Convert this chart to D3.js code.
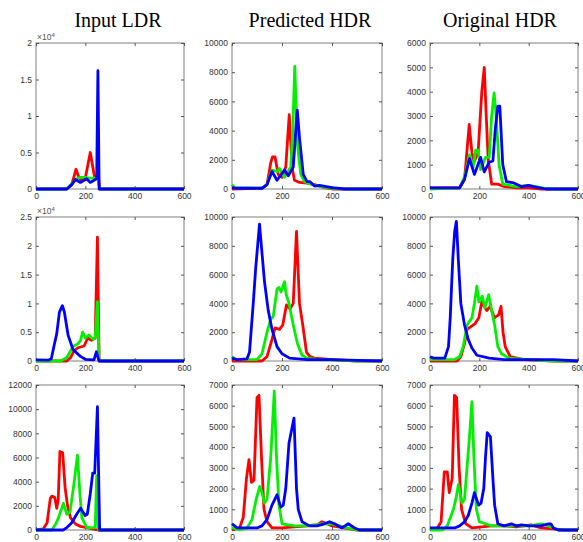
<!DOCTYPE html>
<html>
<head>
<meta charset="utf-8">
<script src="https://cdn.jsdelivr.net/npm/d3@7"></script>
<style>
body { margin: 0; background: #fff; }
.tick text { font-family: "Liberation Sans", Arial, sans-serif; font-size: 8.5px; fill: #333; }
.tick line { stroke: #555; }
</style>
</head>
<body>
<div id="chart"></div>
<script>
// column titles and axis setup
var colTitles = ["Input LDR", "Predicted HDR", "Original HDR"];
var xTicks = [0, 200, 400, 600];
var yMax = [20000, 10000, 6000, 25000, 10000, 10000, 12000, 7000, 7000];
var yStep = [5000, 2000, 1000, 5000, 2000, 2000, 2000, 1000, 1000];
var yExp = [4, 0, 0, 4, 0, 0, 0, 0, 0]; // x10^4 factor on the LDR panels

// row 1
var in1R = [[0,0],[125,0],[145,600],[162,2700],[175,1500],[184,1200],[200,1500],[220,5000],[238,1500],[245,1800],[252,2200],[258,0],[600,0]];
var in1G = [[0,0],[125,0],[150,900],[165,1400],[180,1600],[200,1600],[215,1500],[235,1500],[245,1500],[250,1500],[258,0],[600,0]];
var in1B = [[0,0],[125,0],[145,600],[160,1300],[180,900],[205,1400],[220,900],[240,1300],[246,1400],[251,16200],[256,0],[600,0]];

var pr1R = [[0,0],[120,50],[140,300],[155,1800],[162,2200],[172,2200],[185,1000],[200,800],[215,1500],[229,5100],[240,1500],[250,600],[270,450],[300,400],[330,300],[370,100],[400,0],[600,0]];
var pr1G = [[0,300],[10,100],[120,50],[140,300],[160,1300],[180,1200],[190,1400],[210,800],[235,1500],[243,4000],[251,8400],[262,3000],[275,1000],[290,500],[320,300],[360,150],[400,50],[450,0],[600,0]];
var pr1B = [[0,100],[20,50],[120,50],[140,300],[160,1200],[180,600],[210,1300],[225,900],[245,1500],[255,4000],[261,5400],[270,3500],[285,1000],[300,500],[312,500],[330,200],[350,250],[400,100],[450,0],[600,0]];

var or1R = [[0,50],[120,50],[140,400],[159,2650],[170,1500],[178,1100],[195,1500],[210,4000],[220,5000],[228,3000],[236,1200],[250,200],[275,200],[300,100],[350,50],[400,50],[450,0],[600,0]];
var or1G = [[0,0],[120,50],[140,500],[160,1400],[175,900],[185,1600],[195,1600],[205,800],[225,1300],[240,1300],[250,3000],[260,3950],[268,3000],[280,1000],[295,200],[350,100],[400,150],[430,100],[480,0],[600,0]];
var or1B = [[0,50],[120,50],[140,400],[160,1250],[180,600],[205,1300],[220,700],[240,1100],[255,1150],[265,2500],[275,3400],[283,3400],[295,1000],[310,300],[340,250],[370,100],[400,150],[420,100],[470,0],[600,0]];

// row 2
var in2R = [[0,0],[125,0],[140,600],[155,1800],[170,2300],[195,2600],[210,4000],[225,3600],[240,4000],[249,21500],[256,0],[600,0]];
var in2G = [[0,0],[100,0],[125,600],[150,2500],[170,3000],[180,3500],[189,5000],[200,4000],[215,4500],[230,3800],[240,4000],[249,10300],[256,0],[600,0]];
var in2B = [[0,200],[50,150],[62,400],[75,3000],[84,4700],[95,8500],[107,9600],[115,8500],[130,4500],[150,2000],[180,800],[200,300],[235,200],[245,1600],[252,500],[256,0],[600,0]];

var pr2R = [[0,0],[120,0],[140,300],[160,1500],[172,2300],[190,2200],[203,2500],[218,3900],[232,3600],[245,4000],[258,9000],[270,4000],[283,2500],[298,600],[312,300],[330,200],[400,100],[500,0],[600,0]];
var pr2G = [[0,300],[15,100],[100,100],[120,500],[140,2000],[155,2900],[165,3100],[180,5000],[188,5100],[196,4800],[210,5500],[217,4600],[228,4000],[245,2500],[262,1200],[280,400],[300,200],[350,100],[450,50],[500,0],[600,0]];
var pr2B = [[0,200],[20,100],[60,150],[70,600],[85,4000],[95,6500],[110,9500],[120,7500],[130,5500],[145,3500],[160,2200],[180,1000],[200,500],[230,200],[300,100],[400,100],[500,50],[600,0]];

var or2R = [[0,0],[110,0],[125,300],[140,1200],[150,2200],[183,2600],[198,3000],[210,4100],[230,3500],[244,3800],[261,3000],[278,3200],[288,3800],[296,2000],[305,1000],[325,300],[380,100],[500,0],[600,0]];
var or2G = [[0,100],[100,100],[120,300],[135,1000],[150,2500],[170,3000],[180,4000],[190,5200],[198,4100],[212,4500],[222,3700],[238,4600],[250,3500],[262,2500],[275,1000],[290,500],[320,200],[400,100],[500,0],[600,0]];
var or2B = [[0,300],[15,200],[60,200],[75,1000],[82,3000],[92,7000],[100,9000],[107,9700],[115,7000],[125,4000],[140,2500],[155,1500],[170,900],[190,400],[240,200],[300,100],[400,100],[500,100],[600,0]];

// row 3
var in3R = [[0,0],[30,100],[45,600],[58,2600],[64,2800],[76,2700],[84,1800],[90,2500],[97,6500],[108,6400],[118,3500],[128,2000],[140,1000],[160,500],[180,300],[206,200],[250,0],[600,0]];
var in3G = [[0,0],[64,0],[80,500],[91,1000],[111,2200],[125,1300],[138,1500],[155,4000],[168,6200],[178,3000],[186,1000],[206,200],[240,200],[246,4500],[253,0],[600,0]];
var in3B = [[0,0],[110,0],[125,200],[145,600],[165,1300],[181,1800],[199,1200],[208,1300],[220,3000],[230,4700],[238,4700],[249,10200],[258,0],[600,0]];

var pr3R = [[0,0],[30,100],[45,600],[58,2500],[68,3400],[78,2300],[88,2400],[100,6400],[108,6500],[118,3500],[128,1000],[140,400],[160,100],[200,100],[250,150],[300,200],[340,250],[360,400],[380,300],[400,200],[450,100],[500,0],[600,0]];
var pr3G = [[0,100],[30,0],[60,100],[80,500],[97,1500],[111,2100],[120,1800],[130,1300],[140,1500],[155,3500],[169,6700],[178,3500],[188,1200],[200,300],[250,200],[300,200],[360,300],[400,300],[430,200],[460,100],[500,0],[600,0]];
var pr3B = [[0,300],[20,100],[100,100],[120,200],[140,500],[160,1200],[180,1700],[195,1100],[205,1200],[215,2000],[228,4200],[248,5400],[258,2000],[265,1000],[280,400],[310,200],[340,200],[370,300],[390,400],[410,300],[440,100],[465,300],[490,100],[510,0],[600,0]];

var or3R = [[0,0],[30,100],[45,400],[58,2800],[70,2800],[78,1800],[90,2500],[99,6500],[108,6400],[118,3000],[128,1000],[145,300],[170,100],[250,200],[300,200],[350,150],[380,200],[410,250],[450,100],[500,50],[550,0],[600,0]];
var or3G = [[0,0],[50,0],[70,200],[95,1000],[105,1500],[115,2200],[122,1800],[130,1300],[140,1500],[160,4500],[170,6200],[178,3500],[188,1000],[200,400],[250,200],[350,200],[400,200],[450,300],[480,200],[520,0],[600,0]];
var or3B = [[0,100],[100,100],[120,200],[140,400],[155,700],[170,1300],[180,1800],[197,1200],[207,1300],[218,2000],[225,3500],[232,4700],[245,4500],[255,2500],[262,1200],[275,300],[300,200],[330,300],[350,200],[370,250],[400,200],[450,200],[480,300],[490,300],[500,100],[520,0],[600,0]];

var panels = [
  [in1R, in1G, in1B], [pr1R, pr1G, pr1B], [or1R, or1G, or1B],
  [in2R, in2G, in2B], [pr2R, pr2G, pr2B], [or2R, or2G, or2B],
  [in3R, in3G, in3B], [pr3R, pr3G, pr3B], [or3R, or3G, or3B]
];
var lineColors = ["#ff0000", "#00f000", "#0000ff"];

var width = 583, height = 542;
var colX = [[36, 184], [232, 382], [430, 578]];
var rowY = [[43, 189], [217, 361], [385, 530]];

var svg = d3.select("#chart").append("svg")
  .attr("width", width)
  .attr("height", height);

// titles
var titleX = [118, 310, 500];
colTitles.forEach(function(t, i) {
  svg.append("text")
    .attr("x", titleX[i])
    .attr("y", 27)
    .attr("text-anchor", "middle")
    .style("font-family", "'Liberation Serif', 'Times New Roman', serif")
    .style("font-size", "20px")
    .style("fill", "#000")
    .text(t);
});

panels.forEach(function(series, i) {
  var r = Math.floor(i / 3), c = i % 3;
  var x0 = colX[c][0], x1 = colX[c][1], y0 = rowY[r][0], y1 = rowY[r][1];
  var w = x1 - x0, h = y1 - y0;

  var x = d3.scaleLinear().domain([0, 600]).range([0, w]);
  var y = d3.scaleLinear().domain([0, yMax[i]]).range([h, 0]);
  var yt = d3.range(0, yMax[i] + 1, yStep[i]);
  var div = Math.pow(10, yExp[i]);

  var g = svg.append("g").attr("transform", "translate(" + x0 + "," + y0 + ")");

  var line = d3.line()
    .x(function(d) { return x(d[0]); })
    .y(function(d) { return y(d[1]); });

  // box
  g.append("rect")
    .attr("width", w).attr("height", h)
    .attr("fill", "none").attr("stroke", "#808080").attr("stroke-width", 1);

  var left = g.append("g")
    .call(d3.axisLeft(y).tickValues(yt).tickSize(-3).tickPadding(4)
      .tickFormat(function(v) { return d3.format("")(v / div); }));
  var right = g.append("g").attr("transform", "translate(" + w + ",0)")
    .call(d3.axisRight(y).tickValues(yt).tickSize(-3).tickFormat(""));
  var bottom = g.append("g").attr("transform", "translate(0," + h + ")")
    .call(d3.axisBottom(x).tickValues(xTicks).tickSize(-3).tickPadding(4));
  var top = g.append("g")
    .call(d3.axisTop(x).tickValues(xTicks).tickSize(-3).tickFormat(""));
  [left, right, bottom, top].forEach(function(a) { a.select(".domain").remove(); });

  if (yExp[i]) {
    var ex = g.append("text")
      .attr("x", 1).attr("y", -3)
      .style("font-family", "'Liberation Sans', Arial, sans-serif")
      .style("font-size", "8.5px")
      .style("fill", "#555");
    ex.append("tspan").text("\u00d710");
    ex.append("tspan").attr("dy", -3.5).style("font-size", "6px").text(yExp[i]);
  }

  series.forEach(function(s, k) {
    g.append("path")
      .datum(s)
      .attr("d", line)
      .attr("fill", "none")
      .attr("stroke", lineColors[k])
      .attr("stroke-width", 2.8)
      .attr("stroke-linejoin", "round");
  });
});
</script>
</body>
</html>
